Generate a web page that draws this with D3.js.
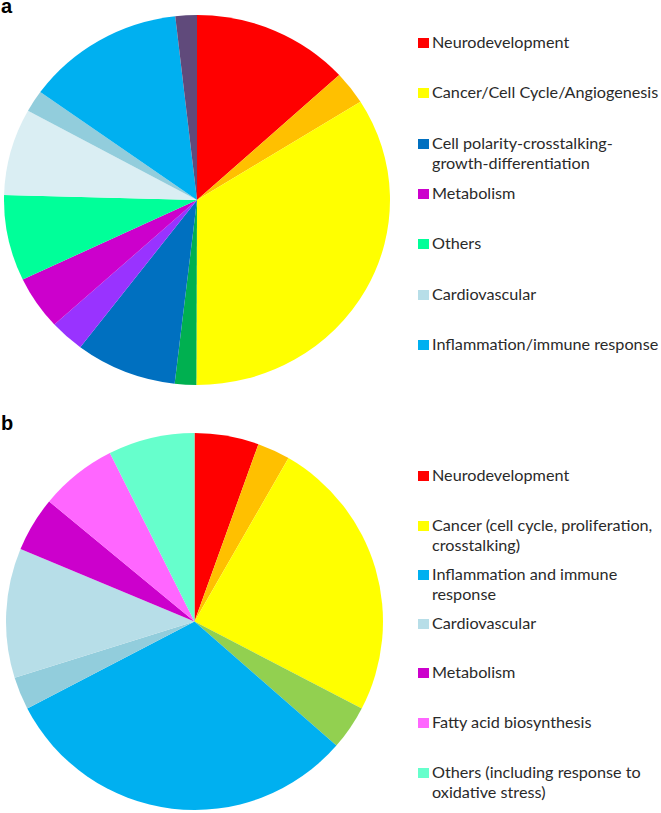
<!DOCTYPE html>
<html>
<head>
<meta charset="utf-8">
<script src="https://cdn.jsdelivr.net/npm/d3@7"></script>
<style>
  body { margin: 0; background: #fff; }
  svg { display: block; }
</style>
</head>
<body>
<svg id="chart" width="661" height="813"></svg>
<script>
// pie a: slice shares (percent, clockwise from 12 o'clock)
var sharesA = [13.2, 2.9, 34.0, 1.8, 8.5, 2.9, 4.7, 7.5, 7.6, 1.9, 13.3, 1.8];
var colorsA = ["#ff0000", "#ffc000", "#ffff00", "#00b050", "#0070c0", "#9933ff",
               "#cc00cc", "#00ff99", "#daeef3", "#92cddc", "#00b0f0", "#604a7b"];
var legendA = ["Neurodevelopment", "Cancer/Cell Cycle/Angiogenesis",
               "Cell polarity-crosstalking-|growth-differentiation", "Metabolism",
               "Others", "Cardiovascular", "Inflammation/immune response"];
var legendColorsA = ["#ff0000", "#ffff00", "#0070c0", "#cc00cc", "#00ff99", "#b7dee8", "#00b0f0"];

// pie b
var sharesB = [5.5, 2.8, 24.3, 3.8, 30.9, 2.8, 11.1, 4.7, 6.6, 7.4];
var colorsB = ["#ff0000", "#ffc000", "#ffff00", "#92d050", "#00b0f0", "#92cddc",
               "#b7dee8", "#cc00cc", "#ff66ff", "#66ffcc"];
var legendB = ["Neurodevelopment", "Cancer (cell cycle, proliferation,|crosstalking)",
               "Inflammation and immune|response", "Cardiovascular", "Metabolism",
               "Fatty acid biosynthesis", "Others (including response to|oxidative stress)"];
var legendColorsB = ["#ff0000", "#ffff00", "#00b0f0", "#b7dee8", "#cc00cc", "#ff66ff", "#66ffcc"];

var svg = d3.select("#chart");
var pie = d3.pie().sort(null).value(function (d) { return d; });

function drawPie(values, colors, cx, cy, rx, ry) {
    var arc = d3.arc().innerRadius(0).outerRadius(ry);
    var g = svg.append("g")
        .attr("transform", "translate(" + cx + "," + cy + ") scale(" + (rx / ry) + ",1)");
    g.selectAll("path")
        .data(pie(values))
        .enter().append("path")
        .attr("d", arc)
        .attr("fill", function (d, i) { return colors[i]; });
}

function drawLegend(labels, colors, rowsY) {
    var g = svg.append("g");
    labels.forEach(function (lab, i) {
        var y = rowsY[i];
        g.append("rect")
            .attr("x", 418).attr("y", y - 10)
            .attr("width", 11).attr("height", 10)
            .attr("fill", colors[i]);
        var t = g.append("text")
            .attr("x", 432).attr("y", y)
            .style("font", "16.2px Lato, 'Open Sans', sans-serif")
            .style("fill", "#2a2a2a");
        lab.split("|").forEach(function (line, j) {
            t.append("tspan").attr("x", 432).attr("dy", j ? 20 : 0).text(line);
        });
    });
}

drawPie(sharesA, colorsA, 197, 200, 193, 185);
drawPie(sharesB, colorsB, 194.5, 621.5, 188.5, 188.5);

drawLegend(legendA, legendColorsA, [48, 98, 149, 199, 249, 300, 350]);
drawLegend(legendB, legendColorsB, [481, 531, 580, 629, 678, 728, 778]);

// panel letters
svg.append("text").attr("x", 1).attr("y", 13)
    .style("font", "bold 20px 'Liberation Sans', Arial, sans-serif").text("a");
svg.append("text").attr("x", 1).attr("y", 430)
    .style("font", "bold 20px 'Liberation Sans', Arial, sans-serif").text("b");
</script>
</body>
</html>
